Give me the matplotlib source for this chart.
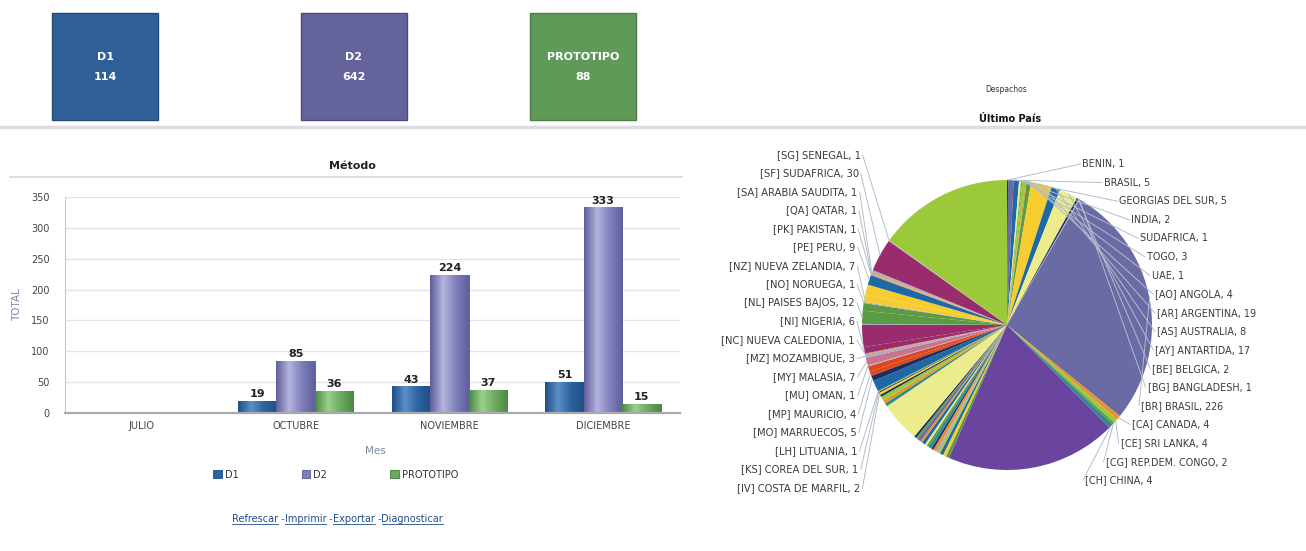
import numpy as np
import matplotlib
matplotlib.use("Agg")
import matplotlib.pyplot as plt
from matplotlib.patches import Rectangle
from matplotlib.colors import LinearSegmentedColormap

W, H = 1306, 551

# tiles on top
tile_names = ["D1", "D2", "PROTOTIPO"]
tile_values = [114, 642, 88]

# bar chart "Método"
months = ["JULIO", "OCTUBRE", "NOVIEMBRE", "DICIEMBRE"]
d1 = [0, 19, 43, 51]
d2 = [0, 85, 224, 333]
prototipo = [0, 36, 37, 15]

links = ["Refrescar", "Imprimir", "Exportar", "Diagnosticar"]

# pie "Último País", clockwise from the top; "" = slice shown without a label
NAVY, GPUR, BLUE, LYEL = "#1d2f5e", "#6a6aa4", "#1f68a6", "#ecec8c"
GREEN, LIME, ORG, YEL = "#5c9a44", "#9cc93a", "#e8922e", "#f7cc30"
GREY, TEAL, VIO, MAG = "#a9abc2", "#2e8a8c", "#6a45a0", "#9a2b6c"
RED, PINK = "#e0461c", "#c9748e"

pais_nombres = [
    "BENIN", "BRASIL", "GEORGIAS DEL SUR", "INDIA", "SUDAFRICA", "TOGO", "UAE",
    "[AO] ANGOLA", "[AR] ARGENTINA", "[AS] AUSTRALIA", "[AY] ANTARTIDA",
    "[BE] BELGICA", "[BG] BANGLADESH", "[BR] BRASIL", "[CA] CANADA",
    "[CE] SRI LANKA", "[CG] REP.DEM. CONGO", "[CH] CHINA",
    "",
    "", "", "", "", "", "", "", "", "", "", "", "", "", "", "",
    "",
    "", "", "", "",
    "[IV] COSTA DE MARFIL", "[KS] COREA DEL SUR", "[LH] LITUANIA", "",
    "[MO] MARRUECOS", "[MP] MAURICIO", "", "[MU] OMAN", "[MY] MALASIA",
    "[MZ] MOZAMBIQUE", "[NC] NUEVA CALEDONIA", "[NI] NIGERIA", "", "",
    "[NL] PAISES BAJOS", "", "[NO] NORUEGA", "[NZ] NUEVA ZELANDIA", "",
    "[PE] PERU", "[PK] PAKISTAN", "[QA] QATAR", "[SA] ARABIA SAUDITA", "",
    "[SF] SUDAFRICA", "[SG] SENEGAL",
    "",
]
pais_valores = [
    1, 5, 5, 2, 1, 3, 1,
    4, 19, 8, 17,
    2, 1, 226, 4,
    4, 2, 4,
    157,
    3, 3, 3, 2, 2, 3, 2, 3, 2, 2, 3, 2, 3, 2, 2,
    37,
    3, 3, 4, 2,
    2, 1, 1, 10,
    5, 4, 5, 1, 7,
    3, 1, 6, 20, 1,
    12, 7, 1, 7, 9,
    9, 1, 1, 1, 2,
    30, 1,
    124,
]
pais_colores = [
    NAVY, GPUR, BLUE, LYEL, GREEN, LIME, ORG,
    GREEN, YEL, BLUE, LYEL,
    NAVY, GREY, GPUR, ORG,
    LIME, GREEN, TEAL,
    VIO,
    GREEN, YEL, BLUE, LIME, GREY, ORG, NAVY, TEAL, GREEN, LYEL, BLUE, ORG, GPUR, GREEN, NAVY,
    LYEL,
    TEAL, ORG, LIME, NAVY,
    YEL, NAVY, LIME, BLUE,
    NAVY, RED, RED, GREY, PINK,
    GREY, ORG, MAG, MAG, GREY,
    GREEN, GREEN, GREY, YEL, YEL,
    BLUE, ORG, GREY, ORG, GREY,
    MAG, GREY,
    LIME,
]

fig = plt.figure(figsize=(W / 100, H / 100), dpi=100)

# background axes in pixel coordinates for tiles, titles and rules
bg = fig.add_axes([0, 0, 1, 1])
bg.set_xlim(0, W)
bg.set_ylim(H, 0)
bg.axis("off")

tile_x = [52, 301, 530]
tile_col = ["#2f5f97", "#64639b", "#5f9a58"]
tile_edge = ["#244b7a", "#4a4a80", "#4a7f45"]
for name, val, x0, c, ec in zip(tile_names, tile_values, tile_x, tile_col, tile_edge):
    bg.add_patch(Rectangle((x0, 13), 106, 107, facecolor=c, edgecolor=ec, lw=1))
    bg.text(x0 + 53, 57, name, color="white", fontsize=8, fontweight="bold",
            ha="center", va="center")
    bg.text(x0 + 53, 77, str(val), color="white", fontsize=8, fontweight="bold",
            ha="center", va="center")

bg.plot([0, W], [127, 127], color="#dcdce4", lw=2.5)
bg.plot([10, 682], [177, 177], color="#d4d4dc", lw=1.2)
bg.text(352, 166, "Método", fontsize=8, fontweight="bold", ha="center", va="center",
        color="#222222")
bg.text(1006, 90, "Despachos", fontsize=5.5, ha="center", va="center", color="#333333")
bg.text(1010, 119, "Último País", fontsize=7, fontweight="bold", ha="center",
        va="center", color="#111111")
bg.text(17, 305, "TOTAL", fontsize=7.5, rotation=90, ha="center", va="center",
        color="#7a86a8")
bg.text(375, 451, "Mes", fontsize=7.5, ha="center", va="center", color="#7a86a8")

# bar chart
ax = fig.add_axes([65 / W, 1 - 413 / H, 615 / W, 216 / H])
x = np.arange(len(months))
bw = 0.25
grad = np.linspace(0, 1, 64).reshape(1, -1)
series = [
    (d1, "D1", ["#1f4f86", "#5b8fc8", "#2c63a0", "#1f4f86"], "#1d4a80"),
    (d2, "D2", ["#5f5f9c", "#b4b4de", "#8080bc", "#5f5f9c"], "#55558e"),
    (prototipo, "PROTOTIPO", ["#4a8a44", "#9ccf8c", "#6caa60", "#4a8a44"], "#3f7a3a"),
]
for k, (vals, name, cols, ec) in enumerate(series):
    cmap = LinearSegmentedColormap.from_list(name, cols)
    bars = ax.bar(x + (k - 1) * bw, vals, bw, color=cols[2], edgecolor=ec,
                  linewidth=0.6, label=name, zorder=2)
    for b, v in zip(bars, vals):
        if v == 0:
            continue
        im = ax.imshow(grad, extent=[b.get_x(), b.get_x() + b.get_width(), 0, v],
                       aspect="auto", cmap=cmap, zorder=2.5)
        im.set_clip_path(b)
        ax.text(b.get_x() + b.get_width() / 2, v + 3, str(v), ha="center",
                va="bottom", fontsize=8, fontweight="bold", color="#222222", zorder=3)

ax.set_xlim(-0.5, 3.5)
ax.set_ylim(0, 350)
ax.set_yticks(range(0, 351, 50))
ax.set_xticks(x)
ax.set_xticklabels(months)
ax.tick_params(axis="both", length=0, labelsize=7, labelcolor="#444444")
ax.tick_params(axis="x", pad=6)
ax.tick_params(axis="y", pad=11)
ax.grid(axis="y", color="#e2e2ea", lw=1, zorder=0)
for s in ["top", "right"]:
    ax.spines[s].set_visible(False)
ax.spines["left"].set_color("#c8c8d0")
ax.spines["bottom"].set_color("#a8a8b0")
ax.spines["bottom"].set_linewidth(1.6)
ax.set_facecolor("white")
ax.legend(loc="center", bbox_to_anchor=(0.44, -0.285), ncol=3, frameon=False,
          fontsize=7, handlelength=0.9, handleheight=0.9, handletextpad=0.3,
          columnspacing=6.5, labelcolor="#333333")

# pie chart
R = 145.0
cx, cy = 1007, 325
pax = fig.add_axes([700 / W, 0, 606 / W, (H - 130) / H])
wedges, _ = pax.pie(pais_valores, colors=pais_colores, startangle=90,
                    counterclock=False, wedgeprops=dict(linewidth=0))
pax.set_xlim((700 - cx) / R, (W - cx) / R)
pax.set_ylim((cy - H) / R, (cy - 130) / R)
pax.set_aspect("equal")
pax.axis("off")


def to_data(px, py):
    return (px - cx) / R, (cy - py) / R


right_items, left_items = [], []
for w, name, val in zip(wedges, pais_nombres, pais_valores):
    if not name:
        continue
    mid = np.deg2rad((w.theta1 + w.theta2) / 2)
    cw = (90 - np.rad2deg(mid)) % 360
    item = (name + ", " + str(val), np.cos(mid), np.sin(mid))
    (right_items if cw < 180 else left_items).append(item)

line_col = "#b4bccc"
for i, (txt, ex, ey) in enumerate(right_items):
    py = 164 + i * 18.6
    px = cx + 150 * np.sqrt(max(0.0, 1 - ((py - 323) / 184) ** 2))
    tx, ty = to_data(px, py)
    ax_, ay_ = to_data(px - 2, py)
    pax.plot([ex, ax_], [ey, ay_], color=line_col, lw=0.7, zorder=5)
    pax.text(tx, ty, txt, ha="left", va="center", fontsize=6.9, color="#3a3a3a")

for i, (txt, ex, ey) in enumerate(left_items):
    py = 488 - i * 18.5
    px = 855 + 8 * (1 - np.sqrt(max(0.0, 1 - ((py - 322) / 175) ** 2)))
    tx, ty = to_data(px, py)
    ax_, ay_ = to_data(px + 2, py)
    pax.plot([ex, ax_], [ey, ay_], color=line_col, lw=0.7, zorder=5)
    pax.text(tx, ty, txt, ha="right", va="center", fontsize=7.2, color="#3a3a3a")

# links under the bar chart
renderer = fig.canvas.get_renderer()
link_col = "#1f4e8c"
xpos = 232
for i, word in enumerate(links):
    if i > 0:
        t = bg.text(xpos, 519, " -", fontsize=7, color="#555555", ha="left", va="center")
        xpos += t.get_window_extent(renderer).width
    t = bg.text(xpos, 519, word, fontsize=7, color=link_col, ha="left", va="center")
    wdt = t.get_window_extent(renderer).width
    bg.plot([xpos, xpos + wdt], [524, 524], color=link_col, lw=0.6)
    xpos += wdt

fig.savefig("out.png", dpi=100)
